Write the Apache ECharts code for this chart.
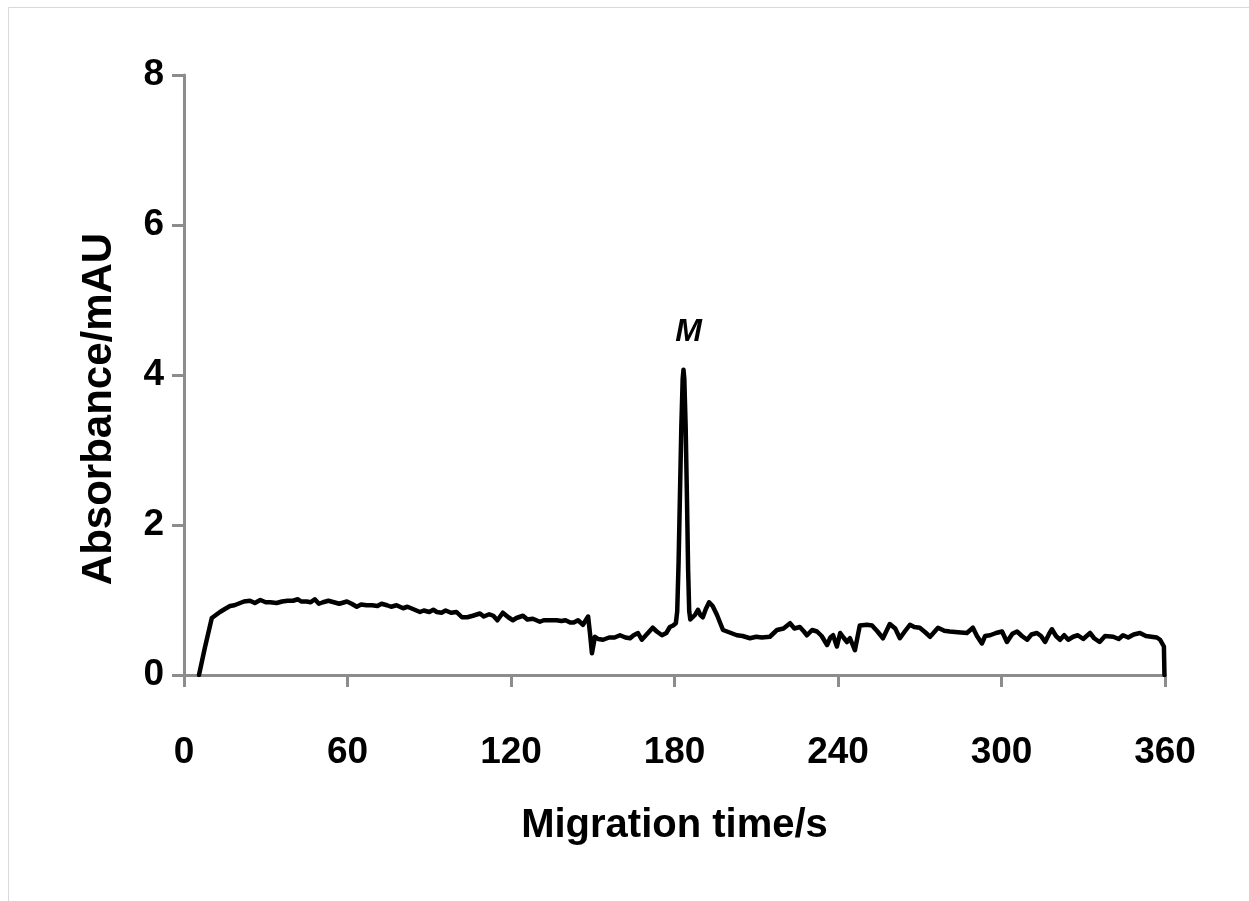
<!DOCTYPE html>
<html>
<head>
<meta charset="utf-8">
<script src="https://cdn.jsdelivr.net/npm/echarts@6/dist/echarts.min.js"></script>
<style>
html,body{margin:0;padding:0;background:#fff;}
#chart{width:1249px;height:901px;}
</style>
</head>
<body>
<div id="chart"></div>
<script>
var xTicks = [0, 60, 120, 180, 240, 300, 360];
var yTicks = [0, 2, 4, 6, 8];
var peakLabel = 'M';
var peakTime = 183.3;
var peakValue = 4.07;
var times = [5.5,7.7,10.2,13.2,15,16.9,18.5,20.6,22,24.2,26,28,30,31.6,34,36,38,40,41.8,43,45,46.5,48,49.5,51,53,55,57,59.8,61.5,63.4,65,67,69,71,72.5,74.5,76,78,80.4,82,84,86.6,88,90,91.5,92.8,94.5,96,98,100,102,104,106,108.6,110,112,113.5,115,117,119,120.7,122,124.4,126,128,130.6,132,134,136.8,138.5,140,141.7,143,144.6,146.4,147,148.3,149,149.7,150.8,152,153.8,156,158,160,162,163.7,165,166.6,168,170,172,173.5,175.4,177,178.3,179.5,180.5,181.0,181.5,182.0,182.5,183.0,183.3,183.6,184.1,184.6,185.0,185.4,185.8,186.4,187.5,188.6,189.5,190.4,191.5,192.7,194,195.6,197.8,200,202.9,205,207.7,210,212,215,217.6,220,222.4,224,226,227.5,228.6,230.5,232.3,234,236,237.2,238.2,239.6,240.8,242,243.3,244.4,246.2,248,250.6,252.5,254.5,256.5,259,261,262.7,264.5,266.4,268,270,272,273.8,276.7,279,281,284,287.3,289.5,291,292.8,294,295.8,298,300.2,302,304,305.7,307.5,309.4,311,313,314.5,316,317.5,318.5,320,321.5,323,324.5,326.3,328,330,332.5,334,336,338,341,343,344.6,346.5,348.5,350.8,353,355,357,358.2,359.6,359.8];
var absorbance = [0,0.37,0.76,0.84,0.88,0.92,0.93,0.96,0.98,0.99,0.96,1.0,0.97,0.97,0.96,0.98,0.99,0.99,1.01,0.98,0.98,0.97,1.01,0.95,0.97,0.99,0.97,0.95,0.98,0.95,0.91,0.94,0.93,0.93,0.92,0.95,0.93,0.91,0.93,0.89,0.91,0.88,0.84,0.86,0.84,0.87,0.84,0.83,0.86,0.83,0.84,0.77,0.77,0.79,0.82,0.78,0.81,0.79,0.73,0.83,0.77,0.73,0.76,0.79,0.74,0.75,0.71,0.73,0.73,0.73,0.72,0.73,0.70,0.70,0.73,0.67,0.67,0.78,0.55,0.29,0.51,0.48,0.47,0.50,0.50,0.53,0.50,0.49,0.53,0.56,0.47,0.55,0.63,0.58,0.53,0.56,0.64,0.66,0.69,0.85,1.5,2.4,3.3,3.95,4.07,3.95,3.3,2.3,1.4,0.85,0.74,0.73,0.80,0.87,0.80,0.77,0.88,0.97,0.92,0.80,0.60,0.57,0.53,0.52,0.49,0.51,0.50,0.51,0.60,0.62,0.69,0.62,0.64,0.58,0.53,0.60,0.58,0.52,0.40,0.50,0.53,0.38,0.56,0.50,0.44,0.49,0.33,0.66,0.67,0.66,0.58,0.49,0.68,0.62,0.49,0.58,0.67,0.64,0.63,0.57,0.51,0.63,0.59,0.58,0.57,0.56,0.63,0.52,0.42,0.52,0.53,0.56,0.58,0.44,0.55,0.58,0.52,0.47,0.54,0.56,0.52,0.44,0.55,0.61,0.52,0.47,0.53,0.47,0.51,0.53,0.48,0.56,0.49,0.44,0.52,0.51,0.48,0.53,0.50,0.54,0.56,0.52,0.51,0.50,0.47,0.38,0];

var seriesData = times.map(function(t, i){ return [t, absorbance[i]]; });
var axisGray = '#8c8c8c';
var fontFam = '"Liberation Sans", Arial, sans-serif';

var chart = echarts.init(document.getElementById('chart'));
chart.setOption({
  animation: false,
  backgroundColor: '#fff',
  graphic: [{
    type: 'rect', left: 6, top: 5, silent: true,
    shape: {width: 1400, height: 1100},
    style: {fill: 'none', stroke: '#d9d9d9', lineWidth: 1}
  }],
  grid: {left: 184, right: 84, top: 75, bottom: 226, containLabel: false},
  xAxis: {
    type: 'value', min: xTicks[0], max: xTicks[xTicks.length-1], interval: 60,
    name: 'Migration time/s', nameLocation: 'middle', nameGap: 131,
    nameTextStyle: {fontFamily: fontFam, fontSize: 40, fontWeight: 'bold', color: '#000'},
    axisLine: {show: true, lineStyle: {color: axisGray, width: 3}},
    axisTick: {show: true, length: 12, lineStyle: {color: axisGray, width: 3}},
    axisLabel: {margin: 59, fontFamily: fontFam, fontSize: 37, fontWeight: 'bold', color: '#000'},
    splitLine: {show: false}
  },
  yAxis: {
    type: 'value', min: yTicks[0], max: yTicks[yTicks.length-1], interval: 2,
    name: 'Absorbance/mAU', nameLocation: 'middle', nameGap: 64, nameRotate: 90,
    nameTextStyle: {fontFamily: fontFam, fontSize: 42, fontWeight: 'bold', color: '#000', padding: [0, 68, 0, 0]},
    axisLine: {show: true, lineStyle: {color: axisGray, width: 3}},
    axisTick: {show: true, length: 12, lineStyle: {color: axisGray, width: 3}},
    axisLabel: {margin: 20, fontFamily: fontFam, fontSize: 37, fontWeight: 'bold', color: '#000'},
    splitLine: {show: false}
  },
  series: [{
    type: 'line',
    data: seriesData,
    showSymbol: false,
    symbol: 'none',
    lineStyle: {color: '#000', width: 4.5, join: 'round', cap: 'round'},
    markPoint: {
      symbol: 'circle', symbolSize: 0,
      label: {show: true, position: 'top', distance: 22, offset: [5, 0], formatter: '{b}',
        fontFamily: fontFam, fontSize: 32, fontWeight: 'bold', fontStyle: 'italic', color: '#000'},
      data: [{name: peakLabel, coord: [peakTime, peakValue]}]
    }
  }]
});
</script>
</body>
</html>
